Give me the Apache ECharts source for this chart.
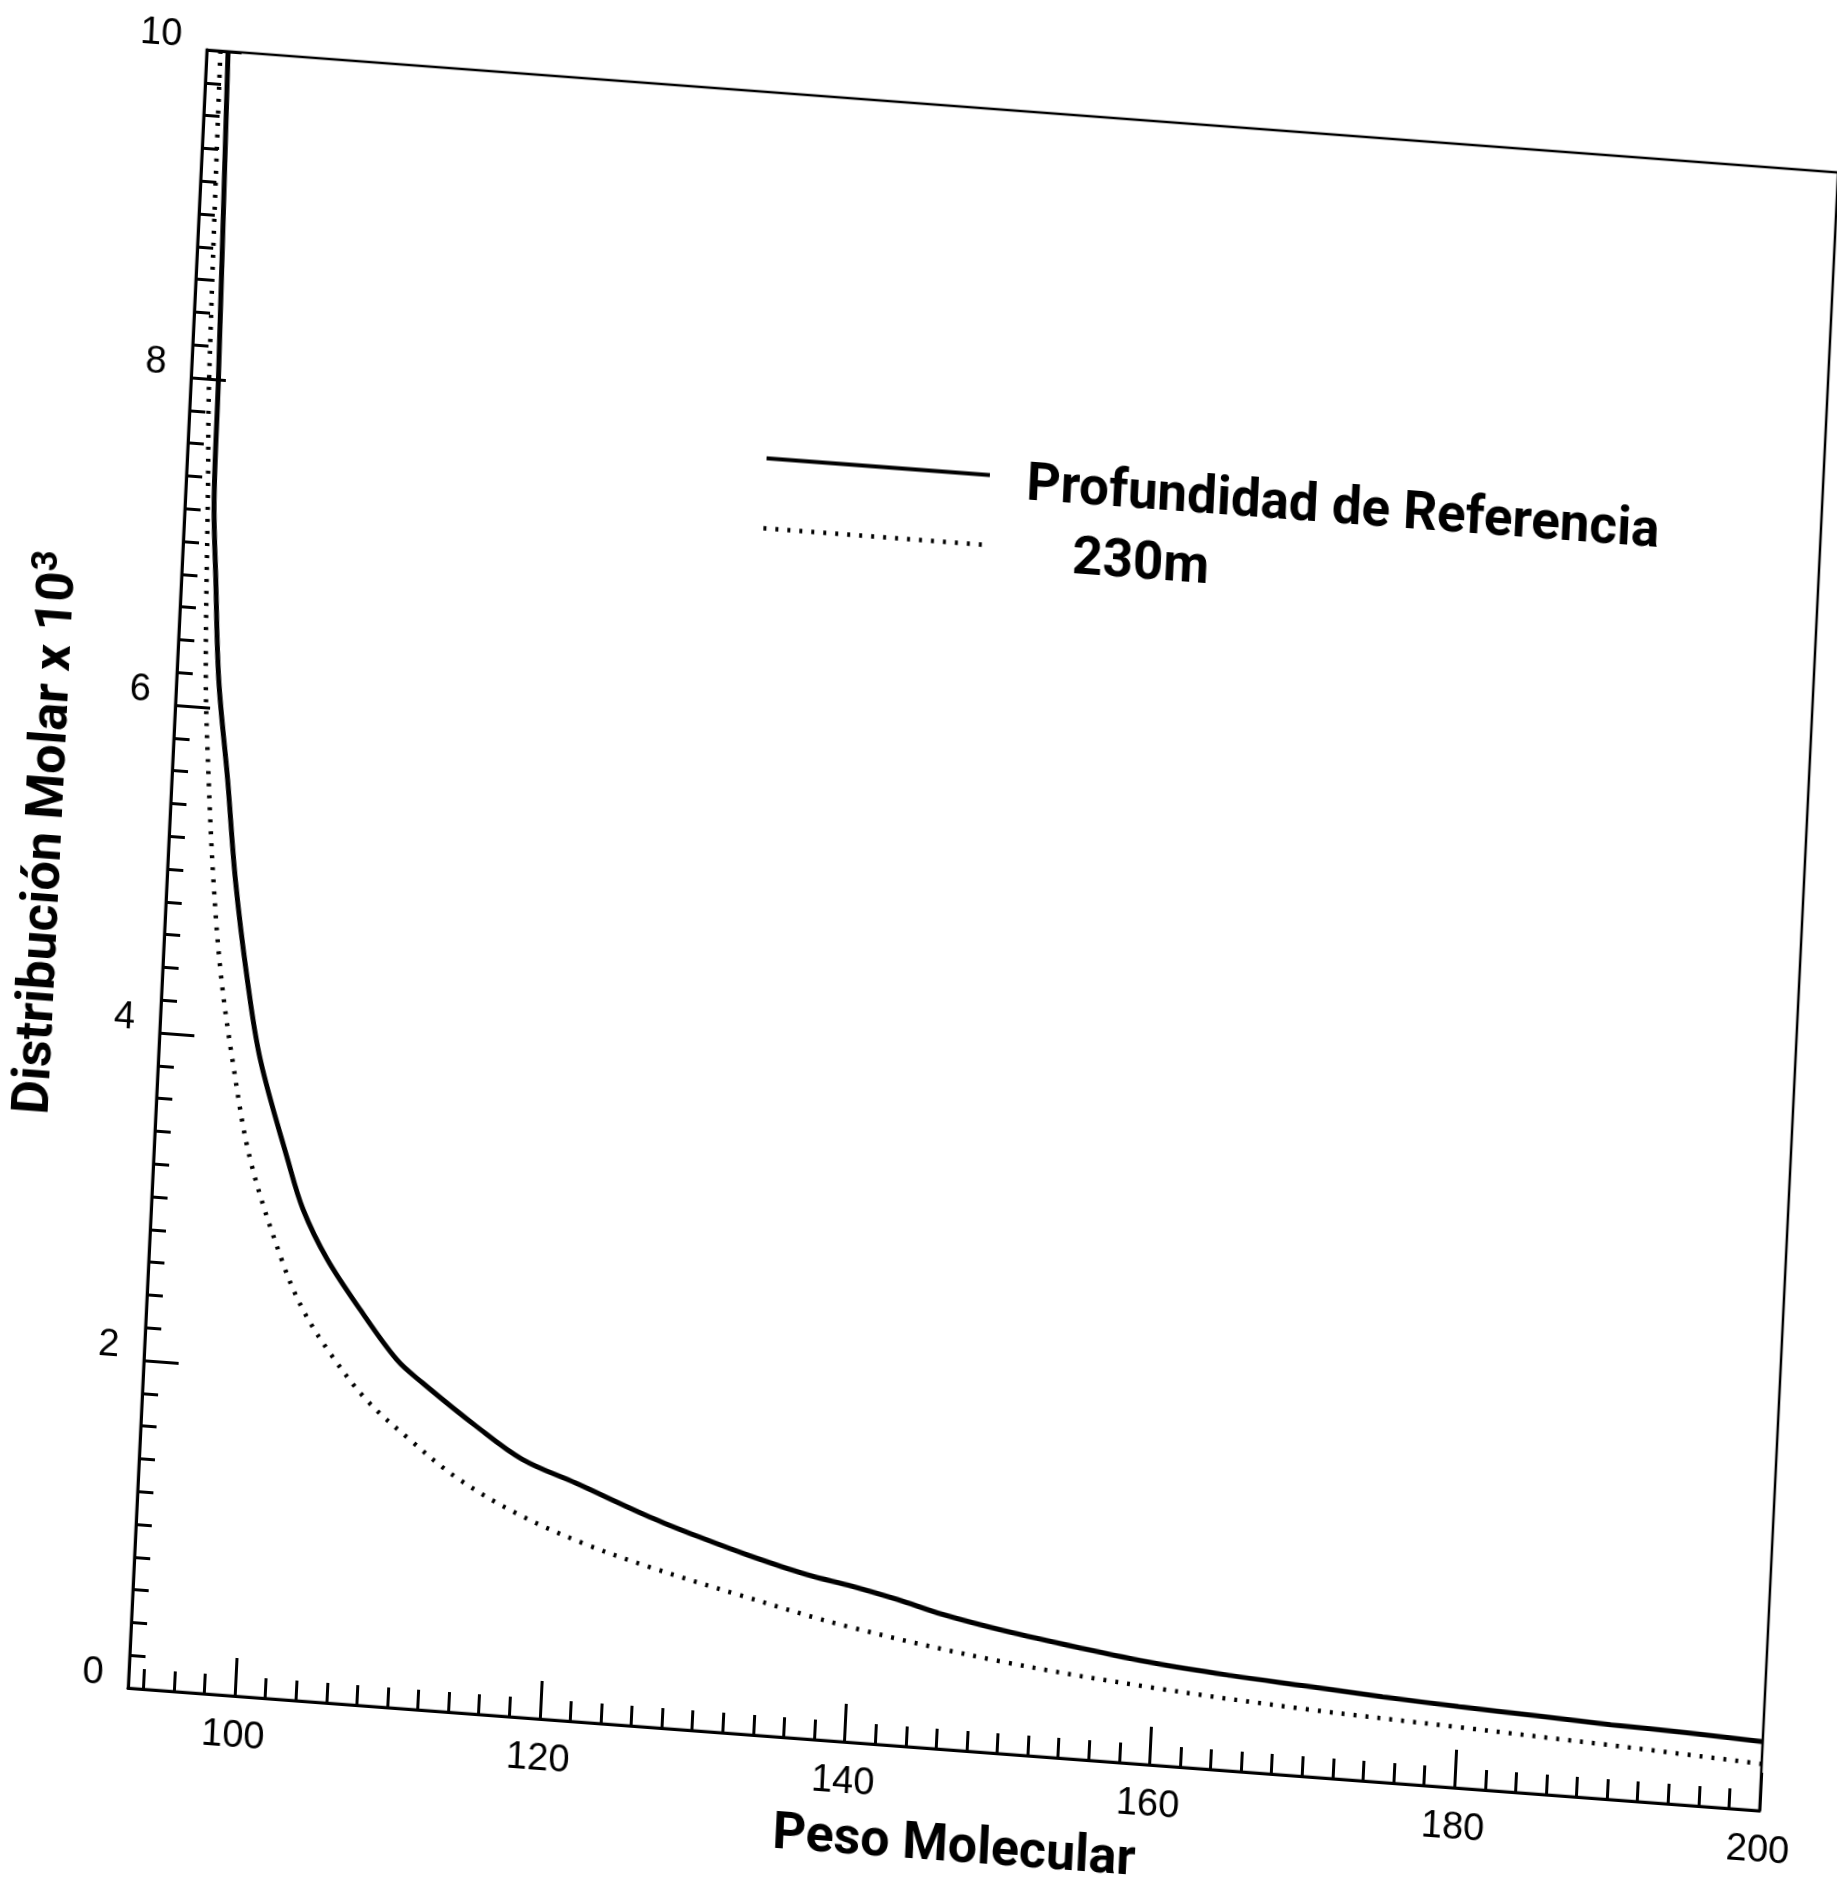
<!DOCTYPE html>
<html lang="es">
<head>
<meta charset="UTF-8">
<title>Distribución Molar - Peso Molecular</title>
<script src="https://cdn.jsdelivr.net/npm/echarts@6.0.0/dist/echarts.min.js"></script>
<style>
    html, body {
        margin: 0;
        padding: 0;
        background: #fff;
        width: 1837px;
        height: 1889px;
        overflow: hidden;
    }
    /* the scanned figure is slightly rotated/skewed, so the whole chart is tilted to match */
    #chart {
        position: absolute;
        left: -60px;
        top: -40px;
        width: 1957px;
        height: 1969px;
        transform-origin: 188px 1728px;
        transform: matrix(0.9972, 0.075, -0.048, 0.9989, 0, 0);
    }
</style>
</head>
<body>
<div id="chart"></div>

<script>
    // solid curve: Profundidad de Referencia
    const refName = 'Profundidad de Referencia';
    const refWeight = [94.4, 94.8, 94.9, 95.26, 95.77, 96.66, 97.49, 98.58, 99.68, 101.8, 102.94, 104.66,
        106.96, 109.53, 111.29, 114.95, 118.06, 121.64, 126.51, 129.83, 133.15, 137, 140, 143, 146, 150,
        155, 160, 165, 170, 175, 180, 185, 190, 195, 200];
    const refMolar = [10.0, 8.0, 7.26, 6.78, 6.17, 5.57, 4.96, 4.36, 3.88, 3.28, 2.99, 2.70,
        2.41, 2.12, 1.99, 1.75, 1.57, 1.45, 1.28, 1.18, 1.09, 1.0, 0.95, 0.89, 0.82, 0.75,
        0.68, 0.62, 0.58, 0.55, 0.52, 0.495, 0.475, 0.455, 0.44, 0.42];

    // dotted curve: 230m
    const depthName = '230m';
    const depthWeight = [93.9, 94.19, 94.44, 94.92, 95.42, 96.05, 96.8, 97.85, 99.33, 101.72, 103.25, 105.14,
        107.69, 110.62, 113.8, 117.83, 122.22, 126.66, 132.6, 140, 150, 160, 170, 180, 190, 200];
    const depthMolar = [10.0, 8.0, 7.38, 6.17, 5.56, 4.95, 4.40, 3.87, 3.27, 2.67, 2.38, 2.13,
        1.86, 1.64, 1.43, 1.24, 1.09, 0.975, 0.846, 0.70, 0.56, 0.47, 0.41, 0.37, 0.33, 0.285];

    const xMajorTicks = [100, 120, 140, 160, 180, 200];
    const xMinorTicks = [];
    for (let v = 94; v < 200; v += 2) {
        if (v % 20 !== 0) xMinorTicks.push(v);
    }

    const labelFont = '"Liberation Sans", Arial, sans-serif';
    const titleFont = 'Roboto, "Liberation Sans", sans-serif';
    const black = '#000';

    function pairs(xs, ys) {
        return xs.map((x, i) => [x, ys[i]]);
    }

    // one legend per row, so each row can sit where the scan has it
    function legendRow(name, top, indent, lineWidth) {
        return {
            orient: 'vertical',
            left: 760,
            top: top,
            itemWidth: 224,
            itemHeight: 40,
            itemStyle: { opacity: 0 },
            lineStyle: { width: lineWidth },
            data: [name],
            formatter: '{t|{name}}',
            textStyle: {
                color: black,
                fontSize: 53,
                fontWeight: 'bold',
                fontFamily: titleFont,
                rich: {
                    t: { padding: [16, 0, 0, indent], color: black, fontSize: 53, fontWeight: 'bold', fontFamily: titleFont }
                }
            }
        };
    }

    const chart = echarts.init(document.getElementById('chart'));

    chart.setOption({
        animation: false,
        backgroundColor: '#fff',
        grid: {
            left: 188,
            top: 88,
            width: 1636,
            height: 1640,
            show: true,
            borderColor: black,
            borderWidth: 2.5
        },
        legend: [
            legendRow(refName, 430, 32, 4),
            legendRow(depthName, 500, 81, 4.5)
        ],
        xAxis: [
            {
                type: 'value',
                min: 93,
                max: 200,
                name: 'Peso Molecular',
                nameLocation: 'middle',
                nameGap: 72,
                nameTextStyle: { color: black, fontSize: 52, fontWeight: 'bold', fontFamily: titleFont, padding: [0, 0, 0, 30] },
                axisLine: { show: true, lineStyle: { color: black, width: 3 } },
                axisTick: { show: true, inside: true, length: 38, customValues: xMajorTicks, lineStyle: { color: black, width: 3 } },
                axisLabel: { show: true, customValues: xMajorTicks, margin: 22, color: black, fontSize: 38, fontFamily: labelFont },
                splitLine: { show: false }
            },
            {
                type: 'value',
                min: 93,
                max: 200,
                position: 'bottom',
                axisLine: { show: false },
                axisTick: { show: true, inside: true, length: 20, customValues: xMinorTicks, lineStyle: { color: black, width: 3 } },
                axisLabel: { show: false },
                splitLine: { show: false }
            }
        ],
        yAxis: {
            type: 'value',
            min: 0,
            max: 10,
            interval: 2,
            name: 'Distribución Molar x 10{sup|3}',
            nameLocation: 'middle',
            nameGap: 90,
            nameTextStyle: {
                color: black,
                fontSize: 52,
                fontWeight: 'bold',
                fontFamily: titleFont,
                lineHeight: 62,
                padding: [0, 0, 0, 54],
                rich: {
                    sup: { color: black, fontSize: 36, fontWeight: 'bold', fontFamily: titleFont, verticalAlign: 'top', lineHeight: 30 }
                }
            },
            axisLine: { show: true, lineStyle: { color: black, width: 3 } },
            axisTick: { show: true, inside: true, length: 35, lineStyle: { color: black, width: 3 } },
            minorTick: { show: true, splitNumber: 10, length: 16, lineStyle: { color: black, width: 3 } },
            axisLabel: { show: true, margin: 25, color: black, fontSize: 38, fontFamily: labelFont, verticalAlign: 'bottom', lineHeight: 24 },
            splitLine: { show: false },
            minorSplitLine: { show: false }
        },
        series: [
            {
                name: refName,
                type: 'line',
                xAxisIndex: 0,
                data: pairs(refWeight, refMolar),
                symbol: 'none',
                showSymbol: false,
                smooth: 0.35,
                itemStyle: { color: black },
                lineStyle: { color: black, width: 5 }
            },
            {
                name: depthName,
                type: 'line',
                xAxisIndex: 0,
                data: pairs(depthWeight, depthMolar),
                symbol: 'none',
                showSymbol: false,
                smooth: 0.35,
                itemStyle: { color: black },
                lineStyle: { color: black, width: 4.5, type: [3, 9], cap: 'butt' }
            }
        ]
    });
</script>
</body>
</html>
